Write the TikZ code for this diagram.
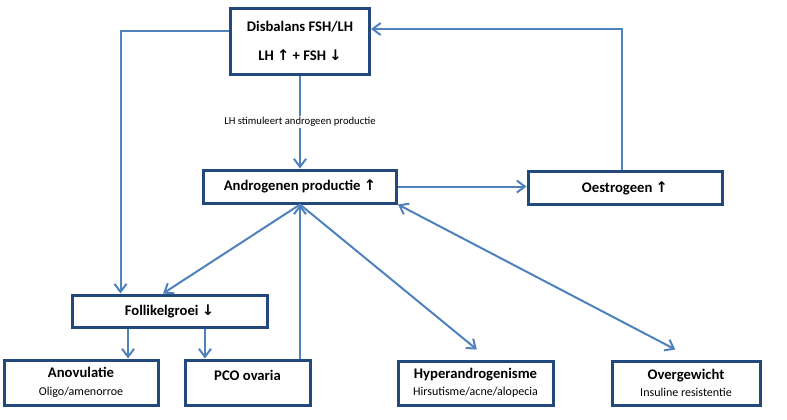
\documentclass[tikz,border=0pt]{standalone}
\usepackage{fontspec}
\setmainfont{Carlito}
\newfontfamily\pijlfont{DejaVu Sans}
\usetikzlibrary{arrows.meta}
\definecolor{rand}{RGB}{35,72,124}
\definecolor{lijn}{RGB}{79,129,189}
\newcommand{\pijlop}{{\pijlfont\bfseries ↑}}
\newcommand{\pijlneer}{{\pijlfont\bfseries ↓}}
\newcommand{\klein}{\fontsize{9pt}{10.5pt}\selectfont\mdseries}

\begin{document}
\begin{tikzpicture}[x=0.75pt,y=-0.75pt,
  >={Straight Barb[length=6pt,width=9pt]},
  doos/.style 2 args={draw=rand,line width=2.25pt,minimum width=#1*0.75pt,minimum height=#2*0.75pt,
    inner sep=2pt,align=center,font=\fontsize{11pt}{13pt}\selectfont\bfseries},
  pijl/.style={->,draw=lijn,line width=1.5pt}]
\useasboundingbox (0,0) rectangle (787,419);

\node (Dis) at (300,41)[doos={139}{66}] {Disbalans FSH/LH\\[9pt]LH \pijlop{} + FSH \pijlneer};
\node (Andro) at (300,186.5)[doos={193}{33}] {Androgenen productie \pijlop};
\node (Oes) at (625,188)[doos={194}{33}] {Oestrogeen \pijlop};
\node (Fol) at (169.5,311)[doos={195}{32}] {Follikelgroei \pijlneer};
\node (Ano) at (81,382.5)[doos={154}{45}] {Anovulatie\\{\klein Oligo/amenorroe}};
\node (PCO) at (247.5,382.5)[doos={125}{45},text depth=10pt] {PCO ovaria};
\node (Hyp) at (475.5,383)[doos={155}{44}] {Hyperandrogenisme\\{\klein Hirsutisme/acne/alopecia}};
\node (Over) at (686,383)[doos={148}{44}] {Overgewicht\\{\klein Insuline resistentie}};

\draw [pijl] ([yshift=7.5pt]Dis.west) -| ([xshift=37.5pt]Fol.north west);
\draw [pijl] (Dis.south) -- node[fill=white,inner sep=1pt,font=\fontsize{8pt}{9pt}\selectfont] {LH stimuleert androgeen productie} (Andro.north);
\draw [pijl] (Andro.east) -- (Andro.east -| Oes.west);
\draw [pijl] ([xshift=-2.25pt]Oes.north) |- ([yshift=9pt]Dis.east);
\draw [pijl] (Andro.south) -- ([xshift=-4.9pt]Fol.north);
\draw [pijl] (PCO.north -| Andro.south) -- (Andro.south);
\draw [pijl] (Andro.south) -- ([xshift=1pt,yshift=7.5pt]Hyp.north);
\draw [pijl,<->] (Andro.south east) -- ([xshift=-8pt,yshift=7.5pt]Over.north);
\coordinate (F1) at ([xshift=-31.1pt]Fol.south);
\coordinate (F2) at ([xshift=26.6pt]Fol.south);
\draw [pijl] (F1) -- (F1 |- Ano.north);
\draw [pijl] (F2) -- (F2 |- PCO.north);
\end{tikzpicture}
\end{document}
